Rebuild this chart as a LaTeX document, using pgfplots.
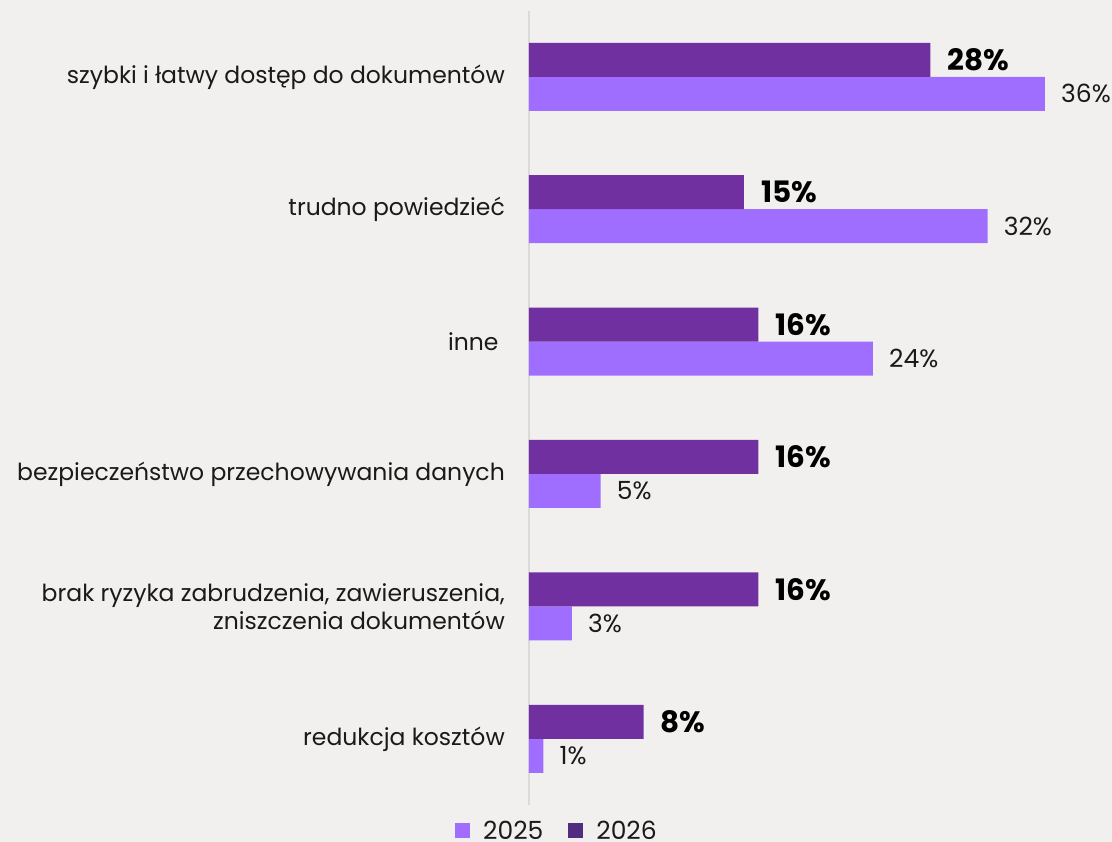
\documentclass[border=0pt]{standalone}
\usepackage{fontspec}
\setmainfont{Poppins}
\usepackage{pgfplots}
\pgfplotsset{compat=1.18}
\definecolor{bg}{HTML}{F1F0EE}
\definecolor{c25}{HTML}{A06EFF}
\definecolor{c26}{HTML}{7030A0}
\definecolor{c26leg}{HTML}{512D82}
\definecolor{axisgray}{HTML}{DADADA}
\definecolor{txt}{HTML}{1A1A1A}
\begin{document}
\begin{tikzpicture}[x=1pt,y=1pt]
\path[use as bounding box, fill=bg] (0,0) rectangle (1112,842);
\begin{axis}[
  at={(529pt,37pt)}, anchor=south west,
  scale only axis, width=573.3pt, height=794.4pt,
  xmin=0, xmax=40, ymin=-0.5, ymax=5.5,
  xbar, bar width=34pt,
  axis x line=none,
  axis y line=left,
  y axis line style={-, draw=axisgray, line width=2.5pt},
  ytick={0,1,2,3,4,5},
  yticklabels={redukcja kosztów, {brak ryzyka zabrudzenia, zawieruszenia,\\zniszczenia dokumentów}, bezpieczeństwo przechowywania danych, {inne\ }, trudno powiedzieć, szybki i łatwy dostęp do dokumentów},
  yticklabel style={align=right, font=\fontsize{23.5}{28}\selectfont, text=txt, inner sep=0pt, xshift=-24pt},
  major tick length=0pt, tick style={draw=none},
  clip=false,
  legend columns=2,
  legend style={at={(axis description cs:-0.129,-0.0327)}, anchor=west, draw=none, fill=none,
    inner sep=0pt, nodes={inner sep=0pt, text=txt, text height=18pt, text depth=0pt}, column sep=13pt,
    font=\fontsize{25}{30}\selectfont,
    /tikz/every even column/.append style={column sep=25pt}},
]
\addplot[draw=none, fill=c25, bar shift=-17pt, point meta=x,
  nodes near coords={\pgfmathprintnumber[assume math mode=true]{\pgfplotspointmeta}\%},
  nodes near coords style={anchor=west, inner sep=0pt, xshift=16pt, text=txt, font=\fontsize{25}{28}\selectfont},
  legend image code/.code={\fill[c25] (0pt,-7.5pt) rectangle (15pt,7.5pt);}]
  coordinates {(1,0) (3,1) (5,2) (24,3) (32,4) (36,5)};
\addlegendentry{2025}
\addplot[draw=none, fill=c26, bar shift=17pt, point meta=x,
  nodes near coords={\pgfmathprintnumber[assume math mode=true]{\pgfplotspointmeta}\%},
  nodes near coords style={anchor=west, inner sep=0pt, xshift=17pt, text=black, font=\fontsize{29.5}{32}\selectfont\bfseries},
  legend image code/.code={\fill[c26leg] (0pt,-7.5pt) rectangle (15pt,7.5pt);}]
  coordinates {(8,0) (16,1) (16,2) (16,3) (15,4) (28,5)};
\addlegendentry{2026}
\end{axis}
\end{tikzpicture}
\end{document}
